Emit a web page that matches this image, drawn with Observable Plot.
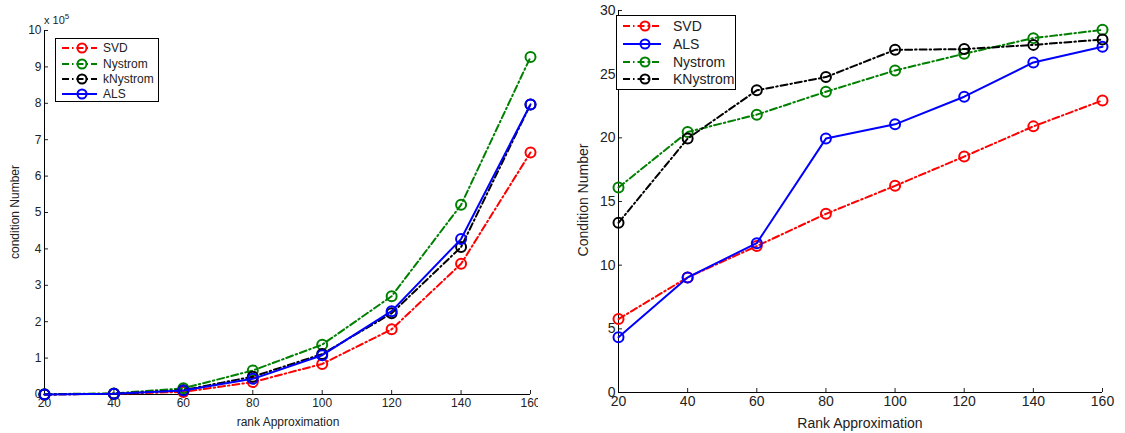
<!DOCTYPE html>
<html><head><meta charset="utf-8">
<script src="https://cdn.jsdelivr.net/npm/d3@7"></script>
<script src="https://cdn.jsdelivr.net/npm/@observablehq/plot@0.6"></script>
<style>
body{margin:0;background:#fff;font-family:"Liberation Sans",Arial,sans-serif}
#wrap{position:relative;width:1125px;height:433px;overflow:hidden;background:#fff}
.panel{position:absolute;top:0}
.panel > svg{max-width:none !important;}
.legend{position:absolute;border:1px solid #000;background:#fff;box-sizing:border-box}
.exp{position:absolute;font-size:11px;color:#222}
</style></head><body><div id="wrap"></div>
<script>
// shared x values
const ranks = [20, 40, 60, 80, 100, 120, 140, 160];
const xTicks = [20, 40, 60, 80, 100, 120, 140, 160];

// Left panel (values in units of 1e5)
const leftSVD      = [0.00, 0.02, 0.07, 0.34, 0.84, 1.79, 3.59, 6.65];
const leftNystrom  = [0.01, 0.03, 0.17, 0.66, 1.37, 2.70, 5.21, 9.27];
const leftKNystrom = [0.00, 0.02, 0.12, 0.49, 1.11, 2.23, 4.05, 7.97];
const leftALS      = [0.00, 0.02, 0.11, 0.43, 1.08, 2.29, 4.27, 7.97];
const leftYTicks = [0,1,2,3,4,5,6,7,8,9,10];

// Right panel
const rightSVD      = [5.77, 9.04, 11.50, 14.03, 16.23, 18.53, 20.90, 22.94];
const rightALS      = [4.34, 9.04, 11.73, 19.94, 21.06, 23.23, 25.92, 27.15];
const rightNystrom  = [16.10, 20.46, 21.82, 23.62, 25.29, 26.60, 27.83, 28.48];
const rightKNystrom = [13.33, 19.94, 23.73, 24.77, 26.91, 26.97, 27.30, 27.72];
const rightYTicks = [0,5,10,15,20,25,30];

const styles = {
  SVD: {color: "#ff0000", dash: "7,3,1.5,3"},
  Nystrom: {color: "#008000", dash: "7,3,1.5,3"},
  kNystrom: {color: "#000000", dash: "7,3,1.5,3"},
  KNystrom: {color: "#000000", dash: "7,3,1.5,3"},
  ALS: {color: "#0000ff", dash: null}
};

function seriesMarks(name, vals) {
  const data = ranks.map((r, i) => ({x: r, y: vals[i]}));
  const s = styles[name];
  return [
    Plot.line(data, {x: "x", y: "y", stroke: s.color, strokeWidth: 2, strokeDasharray: s.dash}),
    Plot.dot(data, {x: "x", y: "y", r: 5, stroke: s.color, fill: "none", strokeWidth: 2})
  ];
}

function panel(opts) {
  const {width, height, ml, mr, mt, mb, yDomain, yTicks, series, fs} = opts;
  return Plot.plot({
    width, height, marginLeft: ml, marginRight: mr, marginTop: mt, marginBottom: mb,
    style: {fontFamily: '"Liberation Sans", Arial, sans-serif', fontSize: fs + "px", color: "#222", background: "#fff", maxWidth: "none"},
    x: {domain: [20, 160]},
    y: {domain: yDomain},
    marks: [
      Plot.axisX({ticks: xTicks, tickSize: -4, tickPadding: 8, label: null, tickFormat: d => d}),
      Plot.axisY({ticks: yTicks, tickSize: -4, tickPadding: 7, label: null, tickFormat: d => d}),
      Plot.ruleY([yDomain[0]], {stroke: "#000", strokeWidth: 1}),
      Plot.ruleX([20], {stroke: "#000", strokeWidth: 1}),
      ...series.flatMap(([n, v]) => seriesMarks(n, v))
    ]
  });
}

const wrap = document.getElementById("wrap");

function addPanel(left, svg, clipW) {
  const d = document.createElement("div");
  d.className = "panel";
  d.style.left = left + "px";
  d.style.width = clipW + "px";
  d.style.height = "433px";
  d.style.overflow = "hidden";
  svg.style.maxWidth = "none";
  svg.style.width = svg.getAttribute("width") + "px";
  svg.style.height = svg.getAttribute("height") + "px";
  d.appendChild(svg);
  wrap.appendChild(d);
  return d;
}

const L = panel({width: 560, height: 433, ml: 44, mr: 30, mt: 30, mb: 39, yDomain: [0, 10], yTicks: leftYTicks, fs: 12,
  series: [["SVD", leftSVD], ["Nystrom", leftNystrom], ["kNystrom", leftKNystrom], ["ALS", leftALS]]});
const R = panel({width: 565, height: 433, ml: 58, mr: 23, mt: 10, mb: 41, yDomain: [0, 30], yTicks: rightYTicks, fs: 14,
  series: [["SVD", rightSVD], ["ALS", rightALS], ["Nystrom", rightNystrom], ["KNystrom", rightKNystrom]]});
const pL = addPanel(0, L, 538);
const pR = addPanel(560, R, 565);

function addText(parent, txt, x, y, fs, rotate) {
  const t = document.createElement("div");
  t.textContent = txt;
  t.style.cssText = `position:absolute;left:${x}px;top:${y}px;font-size:${fs}px;color:#222;white-space:nowrap;transform:translate(-50%,-50%)${rotate ? " rotate(-90deg)" : ""}`;
  parent.appendChild(t);
}
addText(pL, "rank Approximation", 288, 422, 12);
addText(pL, "condition Number", 15, 212, 12, true);
addText(pR, "Rank Approximation", 300, 423, 14);
addText(pR, "Condition Number", 23, 200, 14, true);

const ex = document.createElement("div");
ex.className = "exp";
ex.style.left = "44px"; ex.style.top = "12px";
ex.innerHTML = "x 10<sup style='font-size:8px'>5</sup>";
pL.appendChild(ex);

function legend(parent, items, x, y, w, h, rowY, lineX1, lineX2, markerX, textX, fs) {
  const ns = "http://www.w3.org/2000/svg";
  const d = document.createElement("div");
  d.className = "legend";
  d.style.cssText += `left:${x}px;top:${y}px;width:${w}px;height:${h}px`;
  const svg = document.createElementNS(ns, "svg");
  svg.setAttribute("width", w); svg.setAttribute("height", h);
  svg.style.position = "absolute"; svg.style.left = "-1px"; svg.style.top = "-1px";
  items.forEach((name, i) => {
    const s = styles[name];
    const yy = rowY[i];
    const ln = document.createElementNS(ns, "line");
    ln.setAttribute("x1", lineX1); ln.setAttribute("x2", lineX2);
    ln.setAttribute("y1", yy); ln.setAttribute("y2", yy);
    ln.setAttribute("stroke", s.color); ln.setAttribute("stroke-width", 2);
    if (s.dash) ln.setAttribute("stroke-dasharray", s.dash);
    svg.appendChild(ln);
    const c = document.createElementNS(ns, "circle");
    c.setAttribute("cx", markerX); c.setAttribute("cy", yy); c.setAttribute("r", 4.5);
    c.setAttribute("fill", "none"); c.setAttribute("stroke", s.color); c.setAttribute("stroke-width", 2);
    svg.appendChild(c);
    const t = document.createElementNS(ns, "text");
    t.setAttribute("x", textX); t.setAttribute("y", yy); t.setAttribute("dy", "0.35em");
    t.setAttribute("font-size", fs); t.setAttribute("fill", "#222");
    t.setAttribute("font-family", '"Liberation Sans", Arial, sans-serif');
    t.textContent = name;
    svg.appendChild(t);
  });
  d.appendChild(svg);
  parent.appendChild(d);
}
legend(pL, ["SVD", "Nystrom", "kNystrom", "ALS"], 55, 38, 104, 64, [10, 26, 41, 56], 7, 42, 27, 48, 12);
legend(pR, ["SVD", "ALS", "Nystrom", "KNystrom"], 56, 15, 120, 75, [11, 29, 47, 64], 7, 45, 29, 57, 14);
</script></body></html>
